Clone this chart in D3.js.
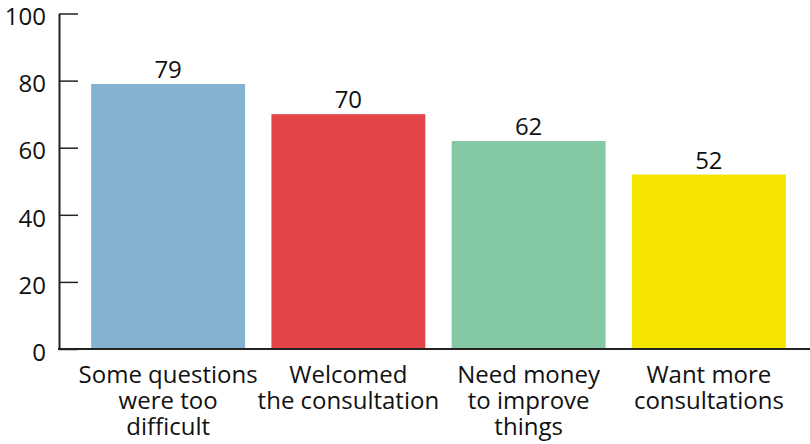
<!DOCTYPE html>
<html>
<head>
<meta charset="utf-8">
<script src="https://cdn.jsdelivr.net/npm/d3@7"></script>
<style>
  html, body { margin: 0; padding: 0; background: #fff; }
  svg text { font-family: "Open Sans", "Noto Sans", sans-serif; fill: #111; }
</style>
</head>
<body>
<svg id="chart" width="810" height="444"></svg>
<script>
// Survey responses (percent)
const categories = [
  ["Some questions", "were too", "difficult"],
  ["Welcomed", "the consultation"],
  ["Need money", "to improve", "things"],
  ["Want more", "consultations"]
];
const values = [79, 70, 62, 52];
const colors = ["#84b3d1", "#e44548", "#84c8a4", "#f5e400"];
const yTicks = [0, 20, 40, 60, 80, 100];

const svg = d3.select("#chart");
const axisX = 59, baseY = 349, topY = 13.5;

const x = d3.scaleBand()
  .domain(d3.range(values.length))
  .range([78, 799])
  .paddingInner(0.146)
  .paddingOuter(0.073);

const y = d3.scaleLinear().domain([0, 100]).range([baseY, topY]);

// bars
svg.append("g").selectAll("rect")
  .data(values)
  .join("rect")
  .attr("x", (d, i) => x(i))
  .attr("y", d => y(d))
  .attr("width", x.bandwidth())
  .attr("height", d => baseY - y(d))
  .attr("fill", (d, i) => colors[i]);

// value labels
svg.append("g").selectAll("text")
  .data(values)
  .join("text")
  .attr("x", (d, i) => x(i) + x.bandwidth() / 2)
  .attr("y", d => y(d) - 6)
  .attr("text-anchor", "middle")
  .style("font-size", "24px")
  .text(d => d);

// y axis with inward ticks
const yAxis = d3.axisLeft(y)
  .tickValues(yTicks)
  .tickSize(-19)
  .tickPadding(13)
  .tickSizeOuter(0);
const gy = svg.append("g")
  .attr("transform", `translate(${axisX},0)`)
  .call(yAxis);
gy.select(".domain").attr("stroke", "#222").attr("stroke-width", 2);
gy.selectAll(".tick line").attr("stroke", "#222").attr("stroke-width", 1.5);
gy.selectAll(".tick text")
  .style("font-size", "24px")
  .attr("fill", "#111")
  .attr("font-family", null)
  .attr("dy", "0.47em");

// baseline
svg.append("line")
  .attr("x1", axisX - 1).attr("x2", 810)
  .attr("y1", baseY).attr("y2", baseY)
  .attr("stroke", "#222").attr("stroke-width", 2);

// category labels
const cat = svg.append("g").selectAll("text")
  .data(categories)
  .join("text")
  .attr("text-anchor", "middle")
  .style("font-size", "24px")
  .attr("x", (d, i) => x(i) + x.bandwidth() / 2)
  .attr("y", 383);
cat.selectAll("tspan")
  .data(d => d)
  .join("tspan")
  .attr("x", function () { return this.parentNode.getAttribute("x"); })
  .attr("dy", (d, j) => j === 0 ? 0 : 26)
  .text(d => d);
</script>
</body>
</html>
